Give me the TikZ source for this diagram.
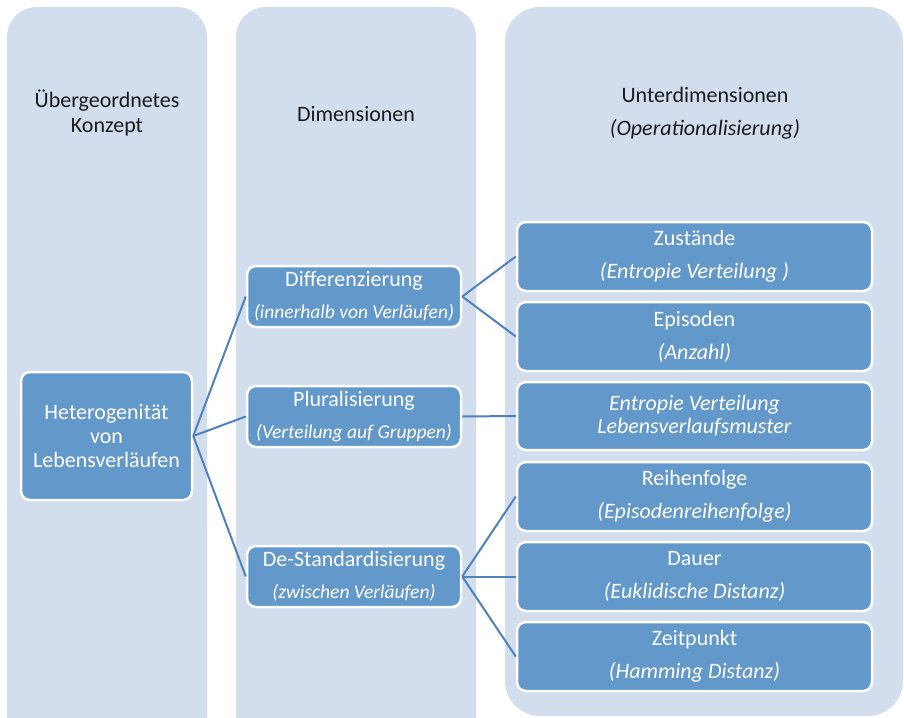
\documentclass[tikz,border=0pt]{standalone}
\usepackage{fontspec}
\setmainfont{Carlito}
\definecolor{colbg}{HTML}{D2DEEE}
\definecolor{boxfill}{HTML}{6398CB}
\definecolor{linecol}{HTML}{4F81BD}
\definecolor{headtxt}{HTML}{1A1A1A}
\newcommand{\smit}[1]{{\fontsize{19.5}{32}\selectfont\itshape #1}}
\begin{document}
\begin{tikzpicture}[x=1pt,y=-1pt,
  colshape/.style={fill=colbg},
  heading/.style={text=headtxt,align=center,font=\fontsize{22}{25}\selectfont,inner sep=0},
  box/.style={rectangle,rounded corners=9pt,fill=boxfill,draw=white,line width=2.5pt,
    text=white,align=center,inner sep=0,font=\fontsize{22}{24}\selectfont},
  midbox/.style={box,minimum width=214pt,minimum height=61pt},
  rightbox/.style={box,minimum width=355pt,minimum height=69pt},
  conn/.style={draw=linecol,line width=2pt}]
\useasboundingbox (0,0) rectangle (904,717);
\clip (0,0) rectangle (904,717);
\fill[white] (0,0) rectangle (904,717);
% columns
\fill[colshape,rounded corners=30pt] (7,760) rectangle (207,7);
\fill[colshape,rounded corners=30pt] (236,760) rectangle (476,7);
\fill[colshape,rounded corners=35pt] (505,716) rectangle (903,7);
% headings
\node[heading] (h1) at (107,112.5) {Übergeordnetes\\Konzept};
\node[heading] (h2) at (356,114) {Dimensionen};
\node[heading,font=\fontsize{22}{33}\selectfont] (h3) at (705,113.5) {Unterdimensionen\\\textit{(Operationalisierung)}};
% main node
\node[box,minimum width=171pt,minimum height=128pt] (het) at (106.5,436) {Heterogenität\\von\\Lebensverläufen};
% dimensions
\node[midbox,font=\fontsize{22}{32}\selectfont] (diff) at (354,296.5) {Differenzierung\\\smit{(innerhalb von Verläufen)}};
\node[midbox,font=\fontsize{22}{32}\selectfont] (plur) at (354,416.5) {Pluralisierung\\\smit{(Verteilung auf Gruppen)}};
\node[midbox,font=\fontsize{22}{32}\selectfont] (dest) at (354,576.5) {De-Standardisierung\\\smit{(zwischen Verläufen)}};
% sub dimensions
\node[rightbox,font=\fontsize{22}{33}\selectfont] (zus) at (694.5,256.5) {Zustände\\\textit{(Entropie Verteilung )}};
\node[rightbox,font=\fontsize{22}{33}\selectfont] (epi) at (694.5,336.5) {Episoden\\\textit{(Anzahl)}};
\node[rightbox,minimum height=68pt,font=\fontsize{22}{23}\selectfont] (ent) at (694.5,416) {\textit{Entropie Verteilung}\\\textit{Lebensverlaufsmuster}};
\node[rightbox,font=\fontsize{22}{33}\selectfont] (rei) at (694.5,496.5) {Reihenfolge\\\textit{(Episodenreihenfolge)}};
\node[rightbox,font=\fontsize{22}{33}\selectfont] (dau) at (694.5,576.5) {Dauer\\\textit{(Euklidische Distanz)}};
\node[rightbox,font=\fontsize{22}{33}\selectfont] (zei) at (694.5,656.5) {Zeitpunkt\\\textit{(Hamming Distanz)}};
% connectors
\draw[conn] (het.east) -- (diff.west);
\draw[conn] (het.east) -- (plur.west);
\draw[conn] (het.east) -- (dest.west);
\draw[conn] (diff.east) -- (zus.west);
\draw[conn] (diff.east) -- (epi.west);
\draw[conn] (plur.east) -- (ent.west);
\draw[conn] (dest.east) -- (rei.west);
\draw[conn] (dest.east) -- (dau.west);
\draw[conn] (dest.east) -- (zei.west);
\end{tikzpicture}
\end{document}
